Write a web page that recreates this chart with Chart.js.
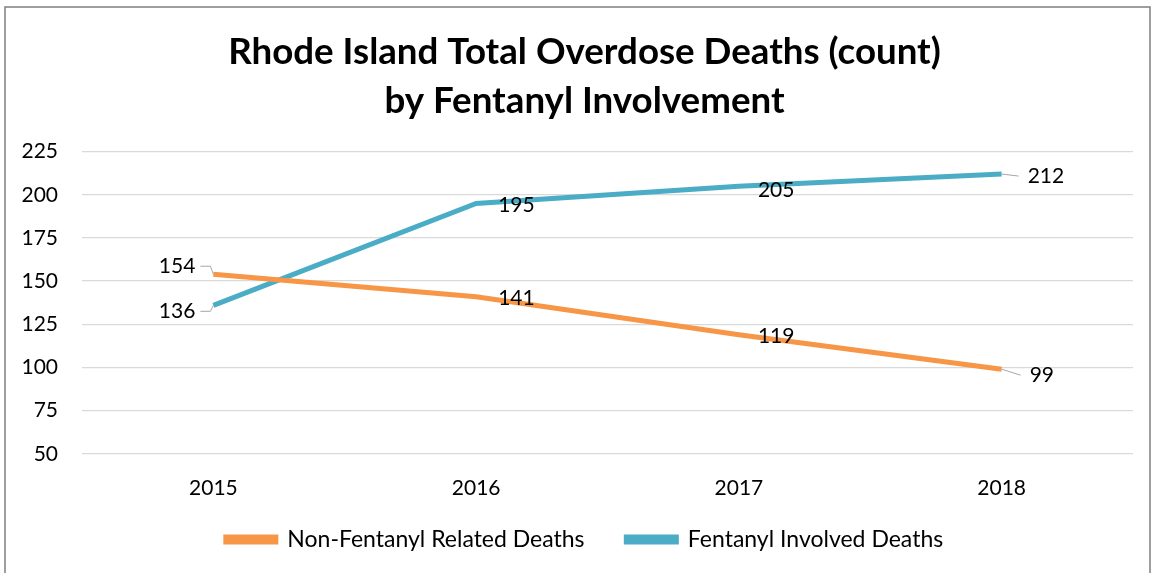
<!DOCTYPE html>
<html>
<head>
<meta charset="utf-8">
<script src="https://cdn.jsdelivr.net/npm/chart.js@4.4.0/dist/chart.umd.min.js"></script>
<style>
  html, body { margin: 0; padding: 0; background: #fff; }
  #wrap { width: 1154px; height: 573px; }
</style>
</head>
<body>
<div id="wrap"><canvas id="myChart" width="1154" height="573"></canvas></div>
<script>
const years = ['2015', '2016', '2017', '2018'];
const nonFentanyl = [154, 141, 119, 99];
const fentanyl = [136, 195, 205, 212];
const yTicks = [50, 75, 100, 125, 150, 175, 200, 225];

// where each value label sits relative to its point (label styling only)
const labelSpots = [
  [{ dx: -18, dy: -8, side: 'left', leader: true }, { dx: 22, dy: 2 }, { dx: 19, dy: 2 }, { dx: 28, dy: 6, leader: true }],
  [{ dx: -18, dy: 6, side: 'left', leader: true }, { dx: 22, dy: 2 }, { dx: 19, dy: 4 }, { dx: 26, dy: 2, leader: true }],
];

const FONT = 'Lato, "Open Sans", sans-serif';

const valueLabels = {
  id: 'valueLabels',
  afterDatasetsDraw(chart) {
    const ctx = chart.ctx;
    ctx.save();
    ctx.font = '21px ' + FONT;
    ctx.textBaseline = 'middle';
    chart.data.datasets.forEach((ds, di) => {
      const meta = chart.getDatasetMeta(di);
      meta.data.forEach((pt, i) => {
        const spot = labelSpots[di][i];
        const text = String(ds.data[i]);
        const w = ctx.measureText(text).width;
        const ty = pt.y + spot.dy;
        let tx;
        if (spot.side === 'left') {
          tx = pt.x + spot.dx - w;
        } else {
          tx = pt.x + spot.dx;
        }
        if (spot.leader) {
          ctx.strokeStyle = '#a6a6a6';
          ctx.lineWidth = 1;
          ctx.beginPath();
          if (spot.side === 'left') {
            ctx.moveTo(tx + w + 5, ty);
            ctx.lineTo(pt.x - 3, ty);
            ctx.lineTo(pt.x, pt.y);
          } else {
            ctx.moveTo(pt.x, pt.y);
            ctx.lineTo(tx - 9, ty);
          }
          ctx.stroke();
        }
        ctx.fillStyle = '#000';
        ctx.textAlign = 'left';
        ctx.fillText(text, tx, ty);
      });
    });
    ctx.restore();
  }
};

// title and legend sit a bit right of the canvas centre in the original
const nudge = {
  id: 'nudge',
  afterLayout(chart) {
    [chart.titleBlock, chart.legend].forEach((b) => {
      if (!b) return;
      b.left += 18;
      b.right += 18;
    });
  }
};

const frame = {
  id: 'frame',
  afterDraw(chart) {
    const ctx = chart.ctx;
    ctx.save();
    ctx.strokeStyle = '#7f7f7f';
    ctx.lineWidth = 1.5;
    ctx.strokeRect(5, 7, chart.width - 9, chart.height);
    ctx.restore();
  }
};

const ctx = document.getElementById('myChart').getContext('2d');
const myChart = new Chart(ctx, {
  type: 'line',
  data: {
    labels: years,
    datasets: [
      {
        label: 'Non-Fentanyl Related Deaths',
        data: nonFentanyl,
        borderColor: '#f79646',
        backgroundColor: '#f79646',
        borderWidth: 5,
        pointRadius: 0,
        tension: 0,
      },
      {
        label: 'Fentanyl Involved Deaths',
        data: fentanyl,
        borderColor: '#4bacc6',
        backgroundColor: '#4bacc6',
        borderWidth: 5,
        pointRadius: 0,
        tension: 0,
      },
    ],
  },
  plugins: [valueLabels, nudge, frame],
  options: {
    responsive: false,
    animation: false,
    layout: { padding: { left: 0, right: 21, top: 28, bottom: 12 } },
    plugins: {
      title: {
        display: true,
        text: ['Rhode Island Total Overdose Deaths (count)', 'by Fentanyl Involvement'],
        color: '#000',
        font: { family: FONT, size: 36.7, weight: 'bold', lineHeight: 1.33 },
        padding: { top: 0, bottom: 26 },
      },
      legend: {
        position: 'bottom',
        labels: {
          color: '#000',
          font: { family: FONT, size: 23 },
          boxWidth: 50,
          boxHeight: 5,
          padding: 13,
          generateLabels(chart) {
            const items = Chart.defaults.plugins.legend.labels.generateLabels(chart);
            // widen the gap after the first entry
            items[0].text = items[0].text + '\u2003\u2002';
            return items;
          },
        },
      },
      tooltip: { enabled: false },
    },
    scales: {
      x: {
        offset: true,
        grid: { display: false },
        border: { display: false },
        ticks: { color: '#000', font: { family: FONT, size: 21 }, padding: 14 },
      },
      y: {
        min: 50,
        max: 225,
        afterBuildTicks(axis) {
          axis.ticks = yTicks.map((v) => ({ value: v }));
        },
        afterFit(axis) {
          axis.width = 82;
        },
        grid: { color: '#d9d9d9', lineWidth: 1.3, drawTicks: false },
        border: { display: false },
        ticks: { color: '#000', font: { family: FONT, size: 21 }, padding: 24 },
      },
    },
  },
});
</script>
</body>
</html>
